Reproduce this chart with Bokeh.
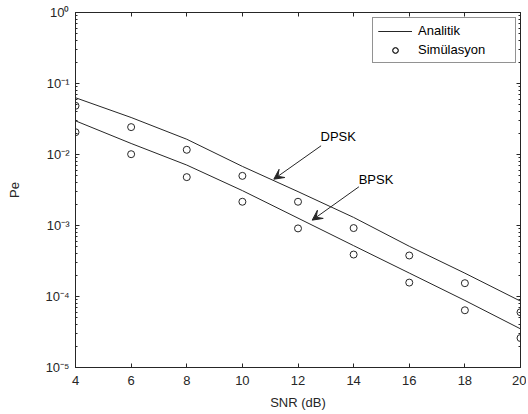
from bokeh.plotting import figure
from bokeh.models import (Range1d, FixedTicker, CustomJSTickFormatter, LinearAxis, LogAxis,
                          Legend, LegendItem, Arrow, VeeHead, Label)
from bokeh.embed import file_html
from bokeh.resources import INLINE

# ---- data ----
snr = [4, 6, 8, 10, 12, 14, 16, 18, 20]
dpsk_analytic = [0.063, 0.0332, 0.0164, 0.0068, 0.0030, 0.0013, 5.1e-4, 2.13e-4, 8.6e-5]
bpsk_analytic = [0.0298, 0.0143, 0.0071, 0.0031, 0.00127, 5.2e-4, 2.14e-4, 8.8e-5, 3.5e-5]
dpsk_sim = [0.0485, 0.0243, 0.01165, 0.0050, 0.00216, 9.2e-4, 3.78e-4, 1.54e-4, 6.0e-5]
bpsk_sim = [0.0206, 0.0101, 0.0048, 0.00216, 9.1e-4, 3.9e-4, 1.57e-4, 6.4e-5, 2.6e-5]
x_ticks = [4, 6, 8, 10, 12, 14, 16, 18, 20]
y_ticks = [1e-5, 1e-4, 1e-3, 1e-2, 1e-1, 1]
legend_labels = ["Analitik", "Simülasyon"]
curve_names = ["DPSK", "BPSK"]

FONT = "Liberation Sans"
DARK = "#262626"

y_minor = [m * 10.0 ** e for e in range(-5, 0) for m in range(2, 10)]

p = figure(frame_width=445, frame_height=355,
           x_range=Range1d(4, 20), y_range=Range1d(1e-5, 1),
           y_axis_type="log", output_backend="svg", toolbar_location=None,
           min_border_left=75, min_border_top=12, min_border_right=6, min_border_bottom=45,
           background_fill_color="white", border_fill_color="white")
p.grid.visible = False
p.outline_line_color = DARK
p.outline_line_width = 1

xt = FixedTicker(ticks=x_ticks)
yt = FixedTicker(ticks=y_ticks, minor_ticks=y_minor)
yfmt = CustomJSTickFormatter(code="""
const e = Math.round(Math.log10(tick));
const sup = {"-":"\u207b","0":"\u2070","1":"\u00b9","2":"\u00b2","3":"\u00b3","4":"\u2074","5":"\u2075","6":"\u2076","7":"\u2077","8":"\u2078","9":"\u2079"};
return "10" + String(e).split("").map(c => sup[c]).join("");
""")

xa = p.xaxis[0]
xa.ticker = xt
xa.axis_label = "SNR (dB)"
ya = p.yaxis[0]
ya.ticker = yt
ya.formatter = yfmt
ya.axis_label = "Pe"

for ax in (xa, ya):
    ax.axis_line_color = DARK
    ax.major_tick_line_color = DARK
    ax.minor_tick_line_color = DARK
    ax.major_tick_in = 4
    ax.major_tick_out = 0
    ax.minor_tick_in = 2
    ax.minor_tick_out = 0
    ax.major_label_text_font = FONT
    ax.major_label_text_font_size = "13px"
    ax.major_label_text_color = DARK
    ax.axis_label_text_font = FONT
    ax.axis_label_text_font_size = "13px"
    ax.axis_label_text_font_style = "normal"
    ax.axis_label_text_color = DARK
xa.minor_tick_line_color = None
xa.major_label_standoff = 8
xa.axis_label_standoff = 7
ya.major_label_standoff = 6
ya.axis_label_standoff = 20

top = LinearAxis(ticker=xt, major_label_text_font_size="1px", major_label_text_color=None,
                 major_tick_in=4, major_tick_out=0,
                 minor_tick_line_color=None, axis_line_color=DARK, major_tick_line_color=DARK,
                 major_label_standoff=0)
right = LogAxis(ticker=yt, major_label_text_font_size="1px", major_label_text_color=None,
                major_tick_in=4, major_tick_out=0,
                minor_tick_in=2, minor_tick_out=0, axis_line_color=DARK,
                major_tick_line_color=DARK, minor_tick_line_color=DARK, major_label_standoff=0)
p.add_layout(top, "above")
p.add_layout(right, "right")

l1 = p.line(snr, dpsk_analytic, line_color=DARK, line_width=1)
l2 = p.line(snr, bpsk_analytic, line_color=DARK, line_width=1)
s1 = p.scatter(snr, dpsk_sim, marker="circle", size=7, fill_color=None, line_color=DARK, line_width=1)
s2 = p.scatter(snr, bpsk_sim, marker="circle", size=7, fill_color=None, line_color=DARK, line_width=1)

legend = Legend(items=[LegendItem(label=legend_labels[0], renderers=[l1, l2]),
                       LegendItem(label=legend_labels[1], renderers=[s1, s2])],
                location=(297, 304), padding=5, spacing=4, glyph_width=34, glyph_height=14,
                label_height=14, label_width=92, label_standoff=6, margin=0,
                label_text_font=FONT, label_text_font_size="13px", label_text_color="black",
                border_line_color=DARK, border_line_width=1, background_fill_color="white")
p.add_layout(legend, "center")

head = dict(size=10, fill_color=DARK, line_color=DARK, line_width=1)
p.add_layout(Arrow(end=VeeHead(**head), x_start=12.83, y_start=0.01327, x_end=11.13, y_end=0.00449,
                   line_color=DARK, line_width=1))
p.add_layout(Arrow(end=VeeHead(**head), x_start=14.19, y_start=0.00351, x_end=12.51, y_end=0.00119,
                   line_color=DARK, line_width=1))
p.add_layout(Label(x=12.81, y=0.0140, text=curve_names[0], text_font=FONT, text_font_size="13px",
                   text_color="black", text_baseline="bottom"))
p.add_layout(Label(x=14.18, y=0.00345, text=curve_names[1], text_font=FONT, text_font_size="13px",
                   text_color="black", text_baseline="bottom"))

open("out.html", "w").write(file_html(p, INLINE))
